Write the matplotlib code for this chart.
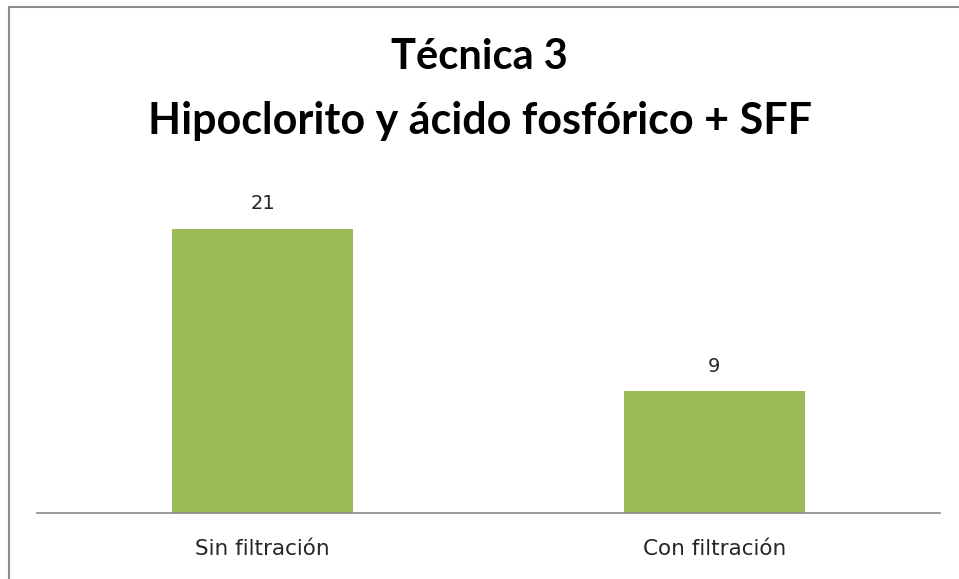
import matplotlib.pyplot as plt
from matplotlib.patches import Rectangle

categories = ['Sin filtración', 'Con filtración']
values = [21, 9]

plt.rcParams['font.family'] = ['Lato', 'DejaVu Sans']

fig = plt.figure(figsize=(9.59, 5.79), dpi=100)
ax = fig.add_axes([37 / 959, 66 / 579, (940 - 37) / 959, (513 - 188) / 579])

x = range(len(categories))
ax.bar(x, values, width=0.4, color='#9BBB59')
for xi, v in zip(x, values):
    ax.text(xi, v + 1.85, str(v), ha='center', va='center', fontsize=14,
            color='#262626', fontfamily='DejaVu Sans')

ax.set_xlim(-0.5, 1.5)
ax.set_ylim(0, 24)
ax.set_xticks(list(x))
ax.set_xticklabels(categories)
for lbl in ax.get_xticklabels():
    lbl.set_fontfamily('DejaVu Sans')
    lbl.set_fontsize(15.5)
    lbl.set_color('#262626')
ax.tick_params(axis='x', length=0, pad=19)
ax.set_yticks([])
for s in ['top', 'right', 'left']:
    ax.spines[s].set_visible(False)
ax.spines['bottom'].set_color('#898989')
ax.spines['bottom'].set_linewidth(1.2)

fig.text(0.5, 1 - 57 / 579, 'Técnica 3', ha='center', va='center',
         fontsize=30, fontweight='bold', color='black')
fig.text(0.5, 1 - 121 / 579, 'Hipoclorito y ácido fosfórico + SFF', ha='center', va='center',
         fontsize=31, fontweight='bold', color='black')

# outer border (cut off at right and bottom in the original)
fig.add_artist(Rectangle((9 / 959, -0.1), 2, 1 - 7 / 579 + 0.1, transform=fig.transFigure,
                         fill=False, edgecolor='#8c8c8c', linewidth=1.5))

fig.savefig('out.png', dpi=100)
